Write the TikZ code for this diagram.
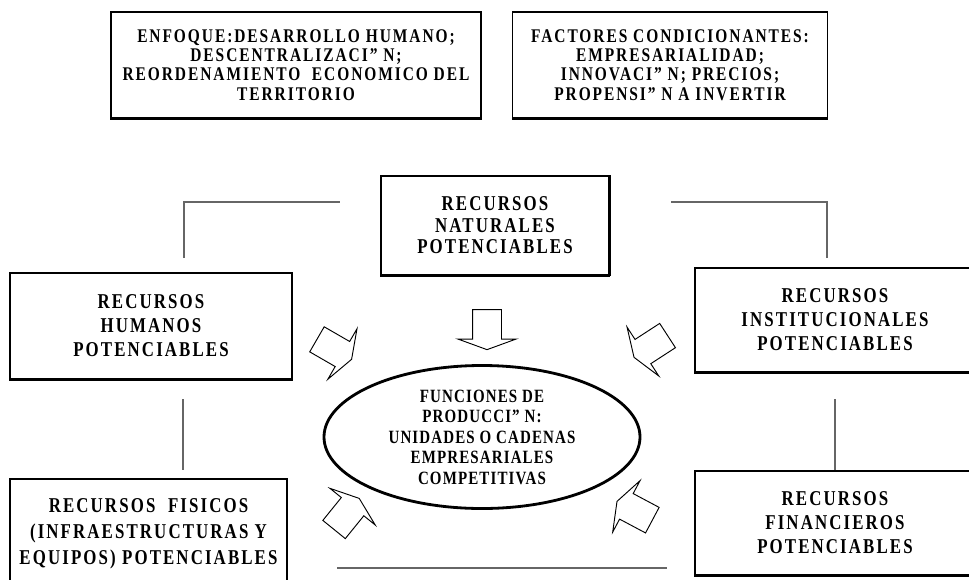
\documentclass[tikz,border=0pt]{standalone}
\usepackage{fontspec}
\newfontfamily\letra[FakeStretch=0.8,LetterSpace=10]{Liberation Serif}
\newfontfamily\letraov[FakeStretch=0.8,LetterSpace=6]{Liberation Serif}
\usetikzlibrary{shapes.geometric,shapes.arrows}
\newcommand{\tamA}{\fontsize{16.5}{16.4}\selectfont}
\newcommand{\tamB}{\fontsize{18}{20.5}\selectfont}
\newcommand{\tamC}{\fontsize{16}{17.5}\selectfont}
\tikzset{
  caja/.style={draw, line width=1pt, align=center, inner sep=0pt, font=\letra\bfseries\tamB},
  flecha/.style={draw, single arrow, line width=0.8pt, inner xsep=0pt, inner ysep=0.42cm,
    minimum height=1.2cm, single arrow head extend=0.44cm, single arrow tip angle=140},
  enlace/.style={draw=black!60, line width=1pt}
}

\begin{document}
\begin{tikzpicture}[x=0.03cm,y=-0.03cm]
\useasboundingbox (0,0) rectangle (969,579);

\node[caja, minimum width=11.1cm, minimum height=3.18cm, font=\letra\bfseries\tamA] (enfoque) at (296,65)
  {ENFOQUE:DESARROLLO HUMANO;\\ DESCENTRALIZACI” N;\\ REORDENAMIENTO\ \ ECONOMICO DEL\\ TERRITORIO};
\node[caja, minimum width=9.45cm, minimum height=3.18cm, font=\letra\bfseries\tamA] (factores) at (670,65)
  {FACTORES CONDICIONANTES:\\ EMPRESARIALIDAD;\\ INNOVACI” N; PRECIOS;\\ PROPENSI” N A INVERTIR};

\node[caja, minimum width=6.84cm, minimum height=2.97cm, font=\letra\bfseries\fontsize{18}{18.4}\selectfont] (naturales) at (495,225.5)
  {RECURSOS\\ NATURALES\\ POTENCIABLES};
\node[caja, minimum width=8.46cm, minimum height=3.18cm] (humanos) at (151,326)
  {RECURSOS\\ HUMANOS\\ POTENCIABLES};
\node[caja, minimum width=8.4cm, minimum height=3.12cm] (instit) at (835,320)
  {RECURSOS\\ INSTITUCIONALES\\ POTENCIABLES};
\node[caja, minimum width=8.31cm, minimum height=3.3cm, line width=1.6pt, font=\letra\bfseries\fontsize{18}{22}\selectfont] (fisicos) at (148.5,534)
  {RECURSOS\ \ FISICOS\\ (INFRAESTRUCTURAS Y\\ EQUIPOS) POTENCIABLES};
\node[caja, minimum width=8.4cm, minimum height=3.12cm] (financieros) at (835,523)
  {RECURSOS\\ FINANCIEROS\\ POTENCIABLES};

\foreach \n in {enfoque,factores,naturales,humanos,instit,financieros}
  \draw[line width=1.8pt] (\n.south west) -- (\n.south east);
\draw[line width=1.8pt] (naturales.south east) -- (naturales.north east);

\node[ellipse, draw, line width=2.4pt, minimum width=9.48cm, minimum height=4.29cm, align=center,
  inner sep=0pt, font=\letraov\bfseries\tamC] (funciones) at (482,437)
  {FUNCIONES DE\\ PRODUCCI” N:\\ UNIDADES O CADENAS\\ EMPRESARIALES\\ COMPETITIVAS};

\node[flecha, rotate=-90] (fn) at (487,327) {};
\node[flecha, rotate=-30] (fh) at (332,348) {};
\node[flecha, rotate=-147] (fi) at (653,345) {};
\node[flecha, rotate=51] (ff) at (345,516) {};
\node[flecha, rotate=152] (fc) at (637,512) {};

\coordinate (li1) at (184,258);
\coordinate (li2) at (184,202);
\coordinate (li3) at (340,202);
\coordinate (ld1) at (827,258);
\coordinate (ld2) at (827,202);
\coordinate (ld3) at (671,202);
\coordinate (bi) at (183,399);
\coordinate (bi2) at (183,470);
\coordinate (bd) at (835,399);
\coordinate (ab1) at (337,568);
\coordinate (ab2) at (667,568);

\draw[enlace] (li1) -- (li2) -- (li3);
\draw[enlace] (ld1) -- (ld2) -- (ld3);
\draw[enlace] (bi) -- (bi2);
\draw[enlace] (bd) -- (financieros.north);
\draw[enlace] (ab1) -- (ab2);
\end{tikzpicture}
\end{document}
